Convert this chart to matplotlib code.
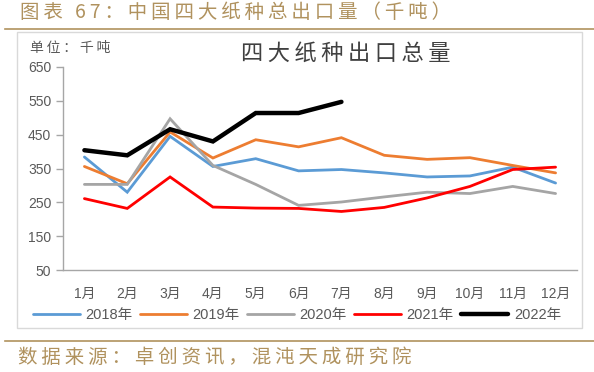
import numpy as np
import matplotlib
matplotlib.use('Agg')
import matplotlib.pyplot as plt
from matplotlib.patches import Rectangle
from matplotlib.lines import Line2D

plt.rcParams['font.family'] = ['Liberation Sans', 'Noto Sans CJK SC', 'DejaVu Sans']

months = ['1月', '2月', '3月', '4月', '5月', '6月', '7月', '8月', '9月', '10月', '11月', '12月']
years = ['2018年', '2019年', '2020年', '2021年', '2022年']
y2018 = [384, 280, 445, 356, 379, 343, 347, 337, 325, 328, 354, 307]
y2019 = [356, 305, 458, 381, 435, 414, 441, 389, 377, 382, 359, 337]
y2020 = [303, 303, 497, 359, 303, 241, 251, 266, 280, 276, 297, 276]
y2021 = [261, 232, 325, 236, 233, 232, 223, 235, 263, 297, 347, 354]
y2022 = [404, 389, 466, 430, 514, 514, 547]
yticks = [50, 150, 250, 350, 450, 550, 650]

colors = ['#5b9bd5', '#ed7d31', '#a5a5a5', '#ff0000', '#000000']
widths = [2.0, 2.0, 2.0, 2.0, 3.2]
series = [y2018, y2019, y2020, y2021, y2022]

GOLD = '#b0925e'
W, H = 594, 372
CJK = ['Noto Sans CJK SC', 'DejaVu Sans']


def spaced(s, sep='\u2009'):
    # widen the text a little, like the wide-set font of the original
    return sep.join(s)


fig = plt.figure(figsize=(W / 100, H / 100), dpi=100)

# outer frame and decoration lines
fig.add_artist(Rectangle((17 / W, 1 - 328 / H), 565 / W, 296 / H,
                         transform=fig.transFigure, fill=False,
                         edgecolor='#d9d9d9', linewidth=1.0))
fig.add_artist(Line2D([5 / W, 1], [1 - 29 / H] * 2, color=GOLD, linewidth=1.2,
                      transform=fig.transFigure))
fig.add_artist(Line2D([5 / W, 1], [1 - 341 / H] * 2, color=GOLD, linewidth=1.2,
                      transform=fig.transFigure))
fig.text(20 / W, 1 - 13 / H, spaced('图表 67：中国四大纸种总出口量（千吨）'),
         color=GOLD, fontsize=14, va='center', ha='left', family=CJK)
fig.text(18 / W, 1 - 357 / H, spaced('数据来源：卓创资讯，混沌天成研究院'),
         color=GOLD, fontsize=14, va='center', ha='left', family=CJK)

ax = fig.add_axes([63 / W, 1 - 270 / H, 514 / W, 203 / H])
x = np.arange(1, 13)
for vals, c, lw, lab in zip(series, colors, widths, years):
    ax.plot(x[:len(vals)], vals, color=c, linewidth=lw, label=lab,
            solid_capstyle='round', solid_joinstyle='miter')

ax.set_xlim(0.5, 12.5)
ax.set_ylim(50, 650)
ax.set_yticks(yticks)
ax.set_xticks(x)
ax.set_xticklabels(months)
ax.tick_params(axis='y', colors='#a6a6a6', labelcolor='#595959',
               labelsize=10, length=5, width=1)
ax.tick_params(axis='x', length=0, labelcolor='#595959', labelsize=10, pad=12)
for s in ['top', 'right']:
    ax.spines[s].set_visible(False)
for s in ['left', 'bottom']:
    ax.spines[s].set_color('#a6a6a6')
    ax.spines[s].set_linewidth(1.0)

ax.text(-0.065, 1.06, spaced('单位：千吨'), transform=ax.transAxes, fontsize=10,
        color='#595959', ha='left', va='bottom', family=CJK)
ax.text(0.55, 1.07, spaced('四大纸种出口总量'), transform=ax.transAxes,
        fontsize=16, color='#404040', ha='center', va='center', family=CJK)

fig.legend(loc='center', bbox_to_anchor=(0.5, 1 - 315 / H), ncol=5,
           frameon=False, fontsize=10.5, handlelength=3.2, handletextpad=0.4,
           columnspacing=0.5, labelcolor='#595959')

fig.savefig('out.png', dpi=100)
